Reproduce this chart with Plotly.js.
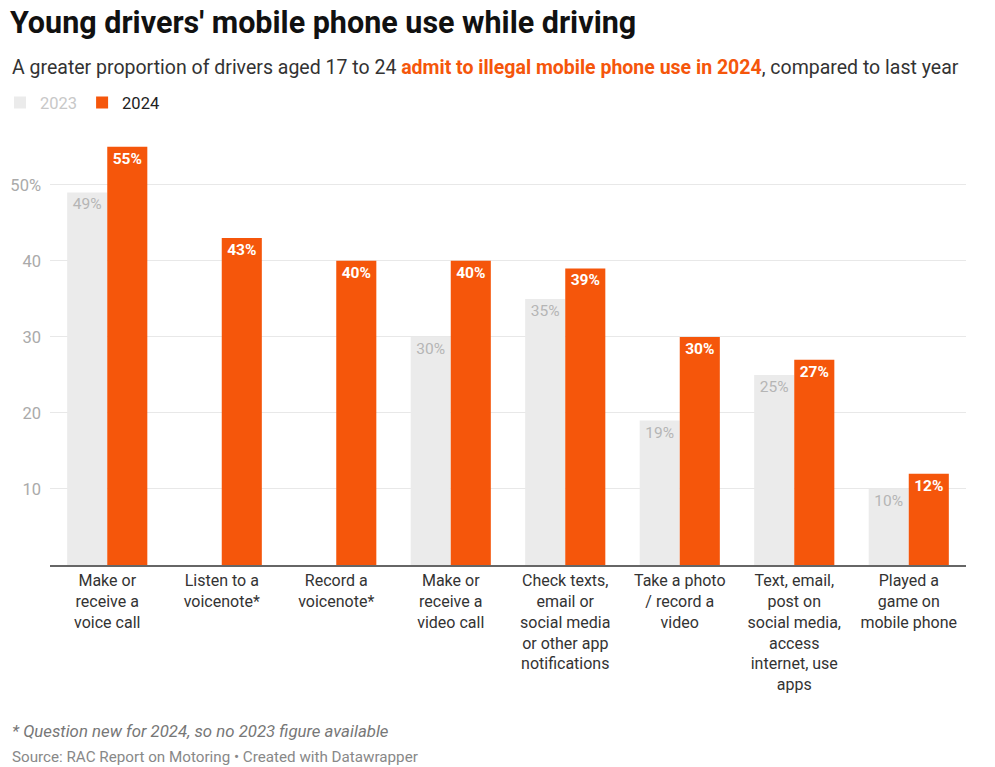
<!DOCTYPE html>
<html>
<head>
<meta charset="utf-8">
<script src="https://cdn.plot.ly/plotly-3.0.1.min.js"></script>
<style>
  html, body { margin: 0; padding: 0; background: #fff; }
  #chart { width: 995px; height: 767px; }
</style>
</head>
<body>
<div id="chart"></div>
<script>
// Activities asked about in the survey
const categories = [
  "Make or<br>receive a<br>voice call",
  "Listen to a<br>voicenote*",
  "Record a<br>voicenote*",
  "Make or<br>receive a<br>video call",
  "Check texts,<br>email or<br>social media<br>or other app<br>notifications",
  "Take a photo<br>/ record a<br>video",
  "Text, email,<br>post on<br>social media,<br>access<br>internet, use<br>apps",
  "Played a<br>game on<br>mobile phone"
];

// Share of drivers aged 17-24 (%); null = not asked in 2023
const values2023 = [49, null, null, 30, 35, 19, 25, 10];
const values2024 = [55, 43, 40, 40, 39, 30, 27, 12];

// Y axis ticks
const yTickValues = [10, 20, 30, 40, 50];
const yTickLabels = ["10", "20", "30", "40", "50%"];

const ORANGE = "#f5560b";
const LIGHT = "#ebebeb";
const FONT = "Roboto, 'Liberation Sans', sans-serif";

const pct = v => (v === null ? "" : v + "%");

const traces = [
  {
    type: "bar",
    name: '<span style="color:#c8c8c8">2023</span>',
    x: categories,
    y: values2023,
    marker: { color: LIGHT },
    text: values2023.map(pct),
    textposition: "inside",
    insidetextanchor: "end",
    textangle: 0,
    textfont: { family: FONT, size: 15.5, color: "#b5b5b5" },
    hoverinfo: "skip"
  },
  {
    type: "bar",
    name: '<span style="color:#222">2024</span>',
    x: categories,
    y: values2024,
    marker: { color: ORANGE },
    text: values2024.map(pct),
    textposition: "inside",
    insidetextanchor: "end",
    textangle: 0,
    textfont: { family: FONT, size: 15.5, color: "#ffffff", weight: 700 },
    hoverinfo: "skip"
  }
];

// Plot area spans 50..966 px horizontally and 124..565 px vertically,
// so header/footer notes are placed in paper units relative to it.
const layout = {
  width: 995,
  height: 767,
  paper_bgcolor: "#ffffff",
  plot_bgcolor: "#ffffff",
  font: { family: FONT, color: "#333" },
  margin: { l: 50, r: 29, t: 124, b: 202 },
  barmode: "group",
  bargap: 0.30,
  bargroupgap: 0,
  showlegend: true,
  legend: {
    orientation: "h",
    xref: "container", yref: "container",
    x: 0, y: 0.866,
    xanchor: "left", yanchor: "middle",
    font: { family: FONT, size: 16.5 },
    itemwidth: 30,
    tracegroupgap: 0,
    traceorder: "normal"
  },
  title: {
    text: "<b>Young drivers' mobile phone use while driving</b>",
    font: { family: FONT, size: 30.5, color: "#111" },
    xref: "container", yref: "container",
    x: 0.01, y: 0.971, xanchor: "left", yanchor: "middle"
  },
  xaxis: {
    type: "category",
    tickfont: { family: FONT, size: 16, color: "#333" },
    showgrid: false,
    showline: true,
    linecolor: "#666",
    linewidth: 2,
    ticks: "",
    fixedrange: true
  },
  yaxis: {
    range: [0, 58],
    tickvals: yTickValues,
    ticktext: yTickLabels,
    tickfont: { family: FONT, size: 16.5, color: "#aaaaaa" },
    showgrid: true,
    gridcolor: "#e8e8e8",
    gridwidth: 1,
    zeroline: false,
    showline: false,
    ticks: "",
    ticklabelstandoff: 8,
    fixedrange: true
  },
  annotations: [
    {
      xref: "paper", yref: "paper",
      x: -0.0437, y: 1.127, xanchor: "left", yanchor: "middle",
      showarrow: false,
      font: { family: FONT, size: 19.5, color: "#333" },
      text: 'A greater proportion of drivers aged 17 to 24 <b><span style="color:#f5560b">admit to illegal mobile phone use in 2024</span></b>, compared to last year'
    },
    {
      xref: "paper", yref: "paper",
      x: -0.0437, y: -0.376, xanchor: "left", yanchor: "middle",
      showarrow: false,
      font: { family: FONT, size: 16.8, color: "#777" },
      text: "<i>* Question new for 2024, so no 2023 figure available</i>"
    },
    {
      xref: "paper", yref: "paper",
      x: -0.0437, y: -0.435, xanchor: "left", yanchor: "middle",
      showarrow: false,
      font: { family: FONT, size: 15.2, color: "#888" },
      text: "Source: RAC Report on Motoring \u2022 Created with Datawrapper"
    }
  ]
};

Plotly.newPlot("chart", traces, layout, { displayModeBar: false, staticPlot: true });
</script>
</body>
</html>
